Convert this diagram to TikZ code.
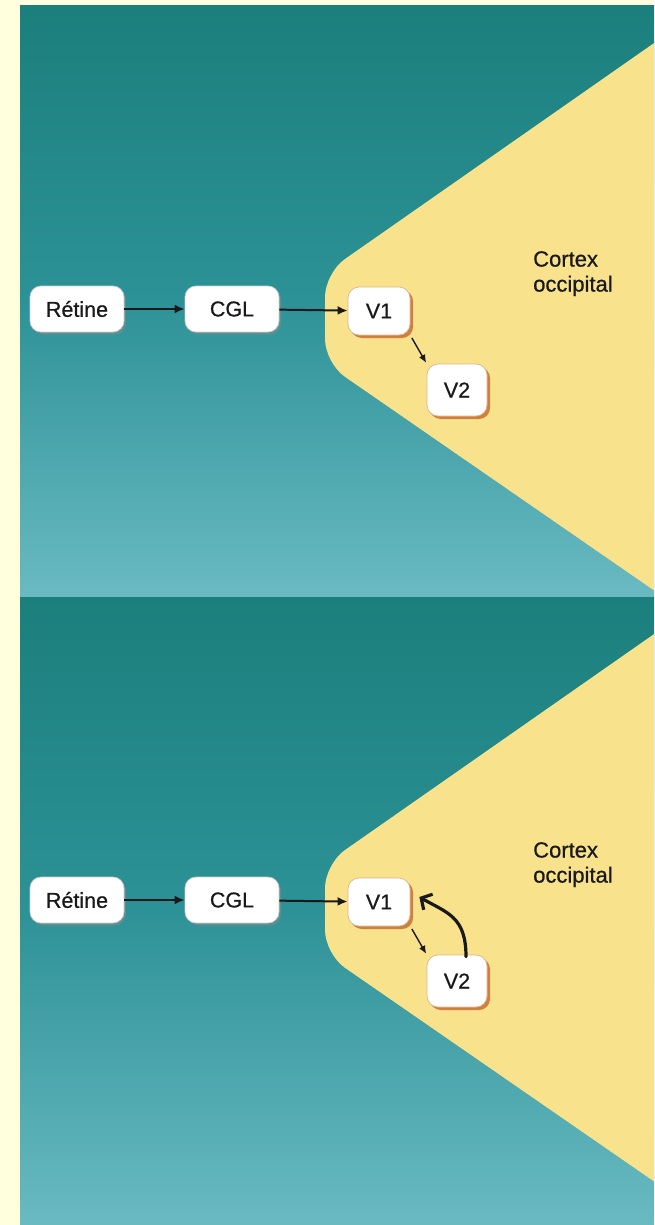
\documentclass[tikz,border=0pt]{standalone}
\usepackage{fontspec}
\setmainfont{Liberation Sans}
\newfontfamily\medfont{Liberation Sans}[FakeBold=0.7]
\usetikzlibrary{arrows.meta,shadows,calc}
\definecolor{cream}{RGB}{255,255,221}
\definecolor{tealtop}{RGB}{27,127,124}
\definecolor{tealmid}{RGB}{45,146,151}
\definecolor{tealbot}{RGB}{106,186,194}
\definecolor{cortexyellow}{RGB}{248,226,140}
\definecolor{orangeshadow}{RGB}{206,128,64}
\definecolor{greyshadow}{RGB}{120,140,140}
\definecolor{ink}{RGB}{25,25,25}
\tikzset{
  labelfont/.style={font=\medfont\fontsize{21.5}{25}\selectfont, text=ink},
  whitebox/.style={labelfont, draw=gray!40, line width=0.7pt, fill=white,
    rounded corners=11pt, inner sep=0pt,
    drop shadow={shadow xshift=2pt, shadow yshift=-2.5pt, fill=greyshadow, opacity=0.6}},
  vbox/.style={whitebox, draw=orangeshadow!60,
    drop shadow={shadow xshift=3pt, shadow yshift=-3pt, fill=orangeshadow, opacity=1}},
  flowarrow/.style={draw=ink, line width=2pt, -{Latex[length=10pt,width=9pt]}},
  thinarrow/.style={draw=ink, line width=1.4pt, -{Latex[length=8pt,width=7pt]}},
  feedback/.style={draw=ink, line width=3.2pt, line cap=round,
    -{Straight Barb[length=8pt,width=18pt,line width=3.2pt]}},
  cortexlabel/.style={labelfont, font=\medfont\fontsize{22}{25}\selectfont, align=left, inner sep=0pt, anchor=north west},
  panelbg/.style={top color=tealtop, bottom color=tealbot, middle color=tealmid}
}
\begin{document}
\begin{tikzpicture}[x=1pt,y=-1pt]
\useasboundingbox (0,0) rectangle (654,1225);
\fill[cream] (0,0) rectangle (654,1225);

% ---------- top panel ----------
\shade[panelbg] (20,6) rectangle (654,597);
\begin{scope}
  \clip (20,6) rectangle (654,597);
  \fill[cortexyellow, rounded corners=24pt] (720,-3) -- (325,273) -- (325,363) -- (720,636) -- cycle;
\end{scope}
\node[whitebox, minimum width=94pt, minimum height=46pt] (ret) at (77,309) {Rétine};
\node[whitebox, minimum width=94pt, minimum height=46pt] (cgl) at (232,309) {CGL};
\node[vbox, minimum width=62pt, minimum height=48pt] (v1) at (379,311) {V1};
\node[vbox, minimum width=60pt, minimum height=52pt] (v2) at (457,390) {V2};
\node[cortexlabel] (cortex) at (533,251) {Cortex\\occipital};
\draw[flowarrow] (ret) -- (cgl);
\draw[flowarrow] (cgl) -- (v1);
\draw[thinarrow, shorten <=3pt, shorten >=1pt] (v1.south east) -- (v2.north west);

% ---------- bottom panel ----------
\shade[panelbg] (20,597) rectangle (654,1225);
\begin{scope}
  \clip (20,597) rectangle (654,1225);
  \fill[cortexyellow, rounded corners=24pt] (720,588) -- (325,864) -- (325,954) -- (720,1227) -- cycle;
\end{scope}
\node[whitebox, minimum width=94pt, minimum height=46pt] (retb) at (77,900) {Rétine};
\node[whitebox, minimum width=94pt, minimum height=46pt] (cglb) at (232,900) {CGL};
\node[vbox, minimum width=62pt, minimum height=48pt] (v1b) at (379,902) {V1};
\node[vbox, minimum width=60pt, minimum height=52pt] (v2b) at (457,981) {V2};
\node[cortexlabel] (cortexb) at (533,842) {Cortex\\occipital};
\draw[flowarrow] (retb) -- (cglb);
\draw[flowarrow] (cglb) -- (v1b);
\draw[thinarrow, shorten <=3pt, shorten >=1pt] (v1b.south east) -- (v2b.north west);
\draw[feedback] ([xshift=9pt,yshift=-2pt]v2b.north) .. controls +(0,-40) and +(28,16) .. ([xshift=9pt,yshift=5pt]v1b.east);
\end{tikzpicture}
\end{document}
